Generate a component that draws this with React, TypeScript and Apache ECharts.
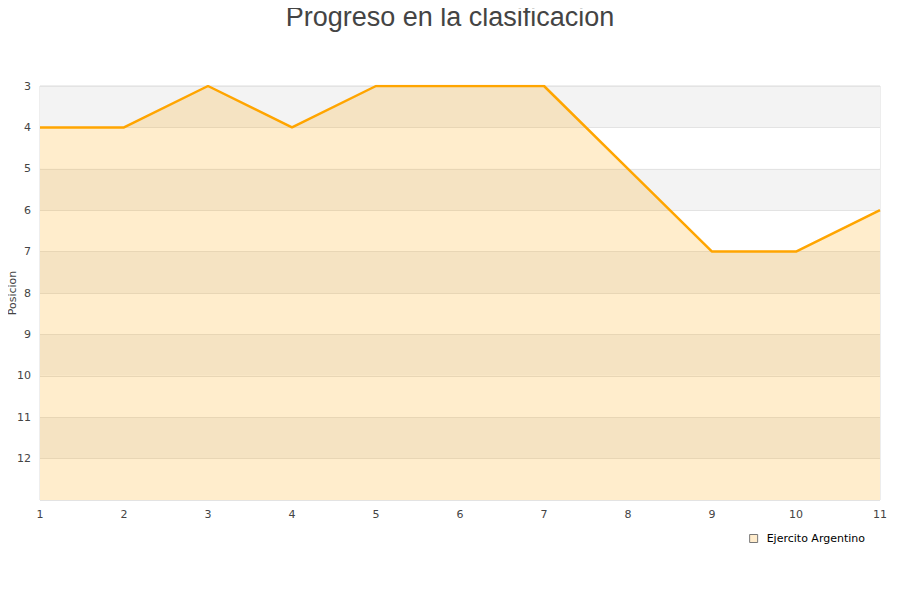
import React, { useEffect, useRef } from "react";
import * as echarts from "echarts";

const jornadas = ["1", "2", "3", "4", "5", "6", "7", "8", "9", "10", "11"];
const posiciones = [4, 4, 3, 4, 3, 3, 3, 5, 7, 7, 6];
const serieNombre = "Ejercito Argentino";
const titulo = "Progreso en la clasificacion";

export default function App() {
  const ref = useRef<HTMLDivElement>(null);
  useEffect(() => {
    if (!ref.current) return;
    const chart = echarts.init(ref.current, null, { renderer: "svg" });
    chart.setOption({
      animation: false,
      backgroundColor: "#fff",
      title: {
        text: titulo,
        left: "center",
        top: 0,
        padding: [2, 5, 5, 5],
        textStyle: {
          fontFamily: "Liberation Sans, Arial, sans-serif",
          fontSize: 27,
          lineHeight: 30,
          fontWeight: "normal",
          color: "#444",
        },
      },
      grid: {
        left: 40,
        right: 20,
        top: 86,
        bottom: 100,
        containLabel: false,
        outerBoundsMode: "none",
        show: true,
        borderColor: "#dcdcdc",
        borderWidth: 1,
        backgroundColor: "transparent",
      },
      legend: {
        data: [
          {
            name: serieNombre,
            icon: "rect",
            itemStyle: { color: "#ffeccc", borderColor: "#777", borderWidth: 1 },
          },
        ],
        right: 33,
        top: 532,
        itemWidth: 8,
        itemHeight: 8,
        itemGap: 6,
        padding: [1, 2, 1, 2],
        textStyle: { fontFamily: "DejaVu Sans", fontSize: 11, color: "#000", padding: [0, 0, 0, 4] },
      },
      xAxis: {
        type: "category",
        data: jornadas,
        boundaryGap: false,
        axisLine: { show: false },
        axisTick: { show: false },
        axisLabel: { fontFamily: "DejaVu Sans", fontSize: 11, color: "#444", margin: 9 },
        splitLine: { show: false },
      },
      yAxis: {
        type: "value",
        inverse: true,
        min: 3,
        max: 13,
        interval: 1,
        name: "Posicion",
        nameLocation: "middle",
        nameGap: 22,
        nameMoveOverlap: false,
        nameTextStyle: { fontFamily: "DejaVu Sans", fontSize: 11, color: "#444" },
        axisLine: { show: false },
        axisTick: { show: false },
        axisLabel: {
          fontFamily: "DejaVu Sans",
          fontSize: 11,
          color: "#444",
          margin: 9,
          showMaxLabel: false,
        },
        splitLine: { show: true, lineStyle: { color: "#e3e3e3", width: 1 } },
        splitArea: { show: true, areaStyle: { color: ["#f3f3f3", "#ffffff"] } },
      },
      series: [
        {
          name: serieNombre,
          type: "line",
          data: posiciones,
          symbol: "none",
          lineStyle: { color: "#ffa500", width: 2.5 },
          itemStyle: { color: "#ffa500" },
          areaStyle: { color: "#ffa500", opacity: 0.2, origin: "end" },
        },
      ],
    });
    return () => chart.dispose();
  }, []);
  return <div ref={ref} style={{ width: 900, height: 600, margin: -8 }} />;
}
